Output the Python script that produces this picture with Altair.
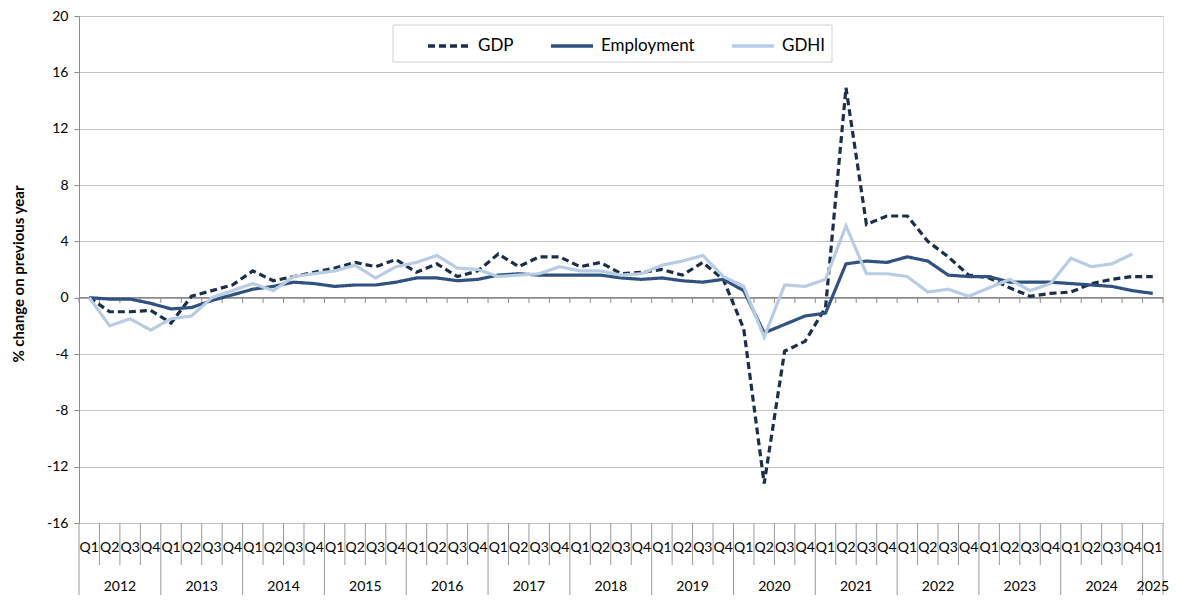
import altair as alt
import pandas as pd

years = ["2012", "2013", "2014", "2015", "2016", "2017", "2018",
         "2019", "2020", "2021", "2022", "2023", "2024", "2025"]
quarter_labels = ["Q1", "Q2", "Q3", "Q4"] * 13 + ["Q1"]

gdp = [0.0, -1.0, -1.0, -0.9, -1.8, 0.1, 0.5, 0.9,
       1.9, 1.2, 1.5, 1.8, 2.1, 2.5, 2.2, 2.7,
       1.8, 2.4, 1.5, 1.9, 3.1, 2.2, 2.9, 2.9,
       2.2, 2.5, 1.7, 1.8, 2.0, 1.6, 2.5, 1.3,
       -2.2, -13.2, -3.8, -3.1, -0.7, 14.9, 5.2, 5.8,
       5.8, 4.0, 2.9, 1.6, 1.4, 0.7, 0.1, 0.3,
       0.4, 1.0, 1.3, 1.5, 1.5]
employment = [0.0, -0.1, -0.1, -0.4, -0.8, -0.7, -0.2, 0.2,
              0.6, 0.8, 1.1, 1.0, 0.8, 0.9, 0.9, 1.1,
              1.4, 1.4, 1.2, 1.3, 1.6, 1.7, 1.6, 1.6,
              1.6, 1.6, 1.4, 1.3, 1.4, 1.2, 1.1, 1.3,
              0.5, -2.5, -1.9, -1.3, -1.1, 2.4, 2.6, 2.5,
              2.9, 2.6, 1.6, 1.5, 1.5, 1.1, 1.1, 1.1,
              1.0, 0.9, 0.8, 0.5, 0.3]
gdhi = [0.0, -2.0, -1.5, -2.3, -1.5, -1.3, 0.0, 0.5,
        1.0, 0.5, 1.5, 1.7, 1.9, 2.3, 1.4, 2.2,
        2.5, 3.0, 2.1, 2.0, 1.5, 1.6, 1.7, 2.2,
        1.9, 1.9, 1.6, 1.7, 2.3, 2.6, 3.0, 1.5,
        0.8, -2.8, 0.9, 0.8, 1.3, 5.1, 1.7, 1.7,
        1.5, 0.4, 0.6, 0.1, 0.7, 1.3, 0.5, 1.0,
        2.8, 2.2, 2.4, 3.1]

series_names = ["GDP", "Employment", "GDHI"]
series_colors = ["#1b2f4b", "#2f5280", "#b8cce4"]
FONT = "Lato, Open Sans, sans-serif"

rows = []
for name, vals in zip(series_names, [gdp, employment, gdhi]):
    for i, v in enumerate(vals):
        rows.append({"series": name, "x": i + 0.5, "value": v})
df = pd.DataFrame(rows)

n = len(quarter_labels)
qdf = pd.DataFrame({"x": [i + 0.5 for i in range(n)], "label": quarter_labels})
ydf = pd.DataFrame({
    "x": [4 * k + 2 if k < len(years) - 1 else n - 0.5 for k in range(len(years))],
    "label": years,
})
bounds = pd.DataFrame({"b": list(range(n + 1))})
bounds["year"] = (bounds["b"] % 4 == 0) | (bounds["b"] == n)

W, H = 1084, 507
xscale = alt.Scale(domain=[0, n], nice=False, zero=False)
yscale = alt.Scale(domain=[-16, 20], nice=False, zero=False)

legend_box = alt.Chart(pd.DataFrame({"a": [0]})).mark_rect(
    fill="white", stroke="#d0d0d0", strokeWidth=1
).encode(x=alt.value(314), x2=alt.value(753), y=alt.value(9), y2=alt.value(46))

zero_rule = alt.Chart(pd.DataFrame({"y": [0]})).mark_rule(
    color="#8c8c8c", strokeWidth=1.5
).encode(y=alt.Y("y:Q", scale=yscale))

zero_ticks = alt.Chart(bounds).mark_rule(color="#8c8c8c", strokeWidth=1).encode(
    x=alt.X("b:Q", scale=xscale, axis=None),
    y=alt.datum(0, scale=yscale),
    y2=alt.datum(-0.38),
)

legend_kw = dict(
    title=None,
    orient="none",
    legendX=347,
    legendY=7,
    direction="horizontal",
    symbolType="stroke",
    symbolSize=1764,
    symbolStrokeWidth=3.5,
    labelFont=FONT,
    labelFontSize=17,
    labelColor="#000000",
    labelOffset=6,
    columnPadding=30,
    padding=0,
)

lines = alt.Chart(df).mark_line(strokeWidth=3.2).encode(
    x=alt.X("x:Q", scale=xscale, axis=None),
    y=alt.Y(
        "value:Q",
        scale=yscale,
        axis=alt.Axis(
            values=list(range(-16, 21, 4)),
            labelExpr="'' + datum.value",
            title="% change on previous year",
            titleFont=FONT,
            titleFontSize=15,
            titleFontWeight="bold",
            titleColor="#000000",
            titleAngle=-90,
            titleX=-61,
            titleY=H / 2 + 4,
            titleBaseline="middle",
            titleAlign="center",
            labelFont=FONT,
            labelFontSize=14,
            labelColor="#000000",
            labelPadding=6,
            tickSize=5,
            tickColor="#8c8c8c",
            domainColor="#8c8c8c",
            gridColor="#c4c4c4",
            gridWidth=1.2,
        ),
    ),
    color=alt.Color(
        "series:N",
        scale=alt.Scale(domain=series_names, range=series_colors),
        legend=alt.Legend(**legend_kw),
    ),
    strokeDash=alt.StrokeDash(
        "series:N",
        scale=alt.Scale(domain=series_names, range=[[7, 4], [1, 0], [1, 0]]),
        legend=alt.Legend(**legend_kw),
    ),
)

short_sep = alt.Chart(bounds[~bounds["year"]]).mark_rule(color="#9a9a9a", strokeWidth=1).encode(
    x=alt.X("b:Q", scale=xscale, axis=None), y=alt.value(H), y2=alt.value(H + 42)
)
long_sep = alt.Chart(bounds[bounds["year"]]).mark_rule(color="#9a9a9a", strokeWidth=1).encode(
    x=alt.X("b:Q", scale=xscale, axis=None), y=alt.value(H), y2=alt.value(H + 72)
)
qtext = alt.Chart(qdf).mark_text(font=FONT, fontSize=14, color="#000000", baseline="middle").encode(
    x=alt.X("x:Q", scale=xscale, axis=None), y=alt.value(H + 25), text="label:N"
)
ytext = alt.Chart(ydf).mark_text(font=FONT, fontSize=14, color="#000000", baseline="middle").encode(
    x=alt.X("x:Q", scale=xscale, axis=None), y=alt.value(H + 64), text="label:N"
)

chart = alt.layer(
    legend_box, zero_rule, zero_ticks, lines, short_sep, long_sep, qtext, ytext
).properties(
    width=W,
    height=H,
    padding={"left": 71, "top": 8, "right": 10, "bottom": 72},
    autosize=alt.AutoSizeParams(type="none"),
).configure_view(stroke=None).configure(background="white")

chart.save("out.html", embed_options={"renderer": "svg", "actions": False})
